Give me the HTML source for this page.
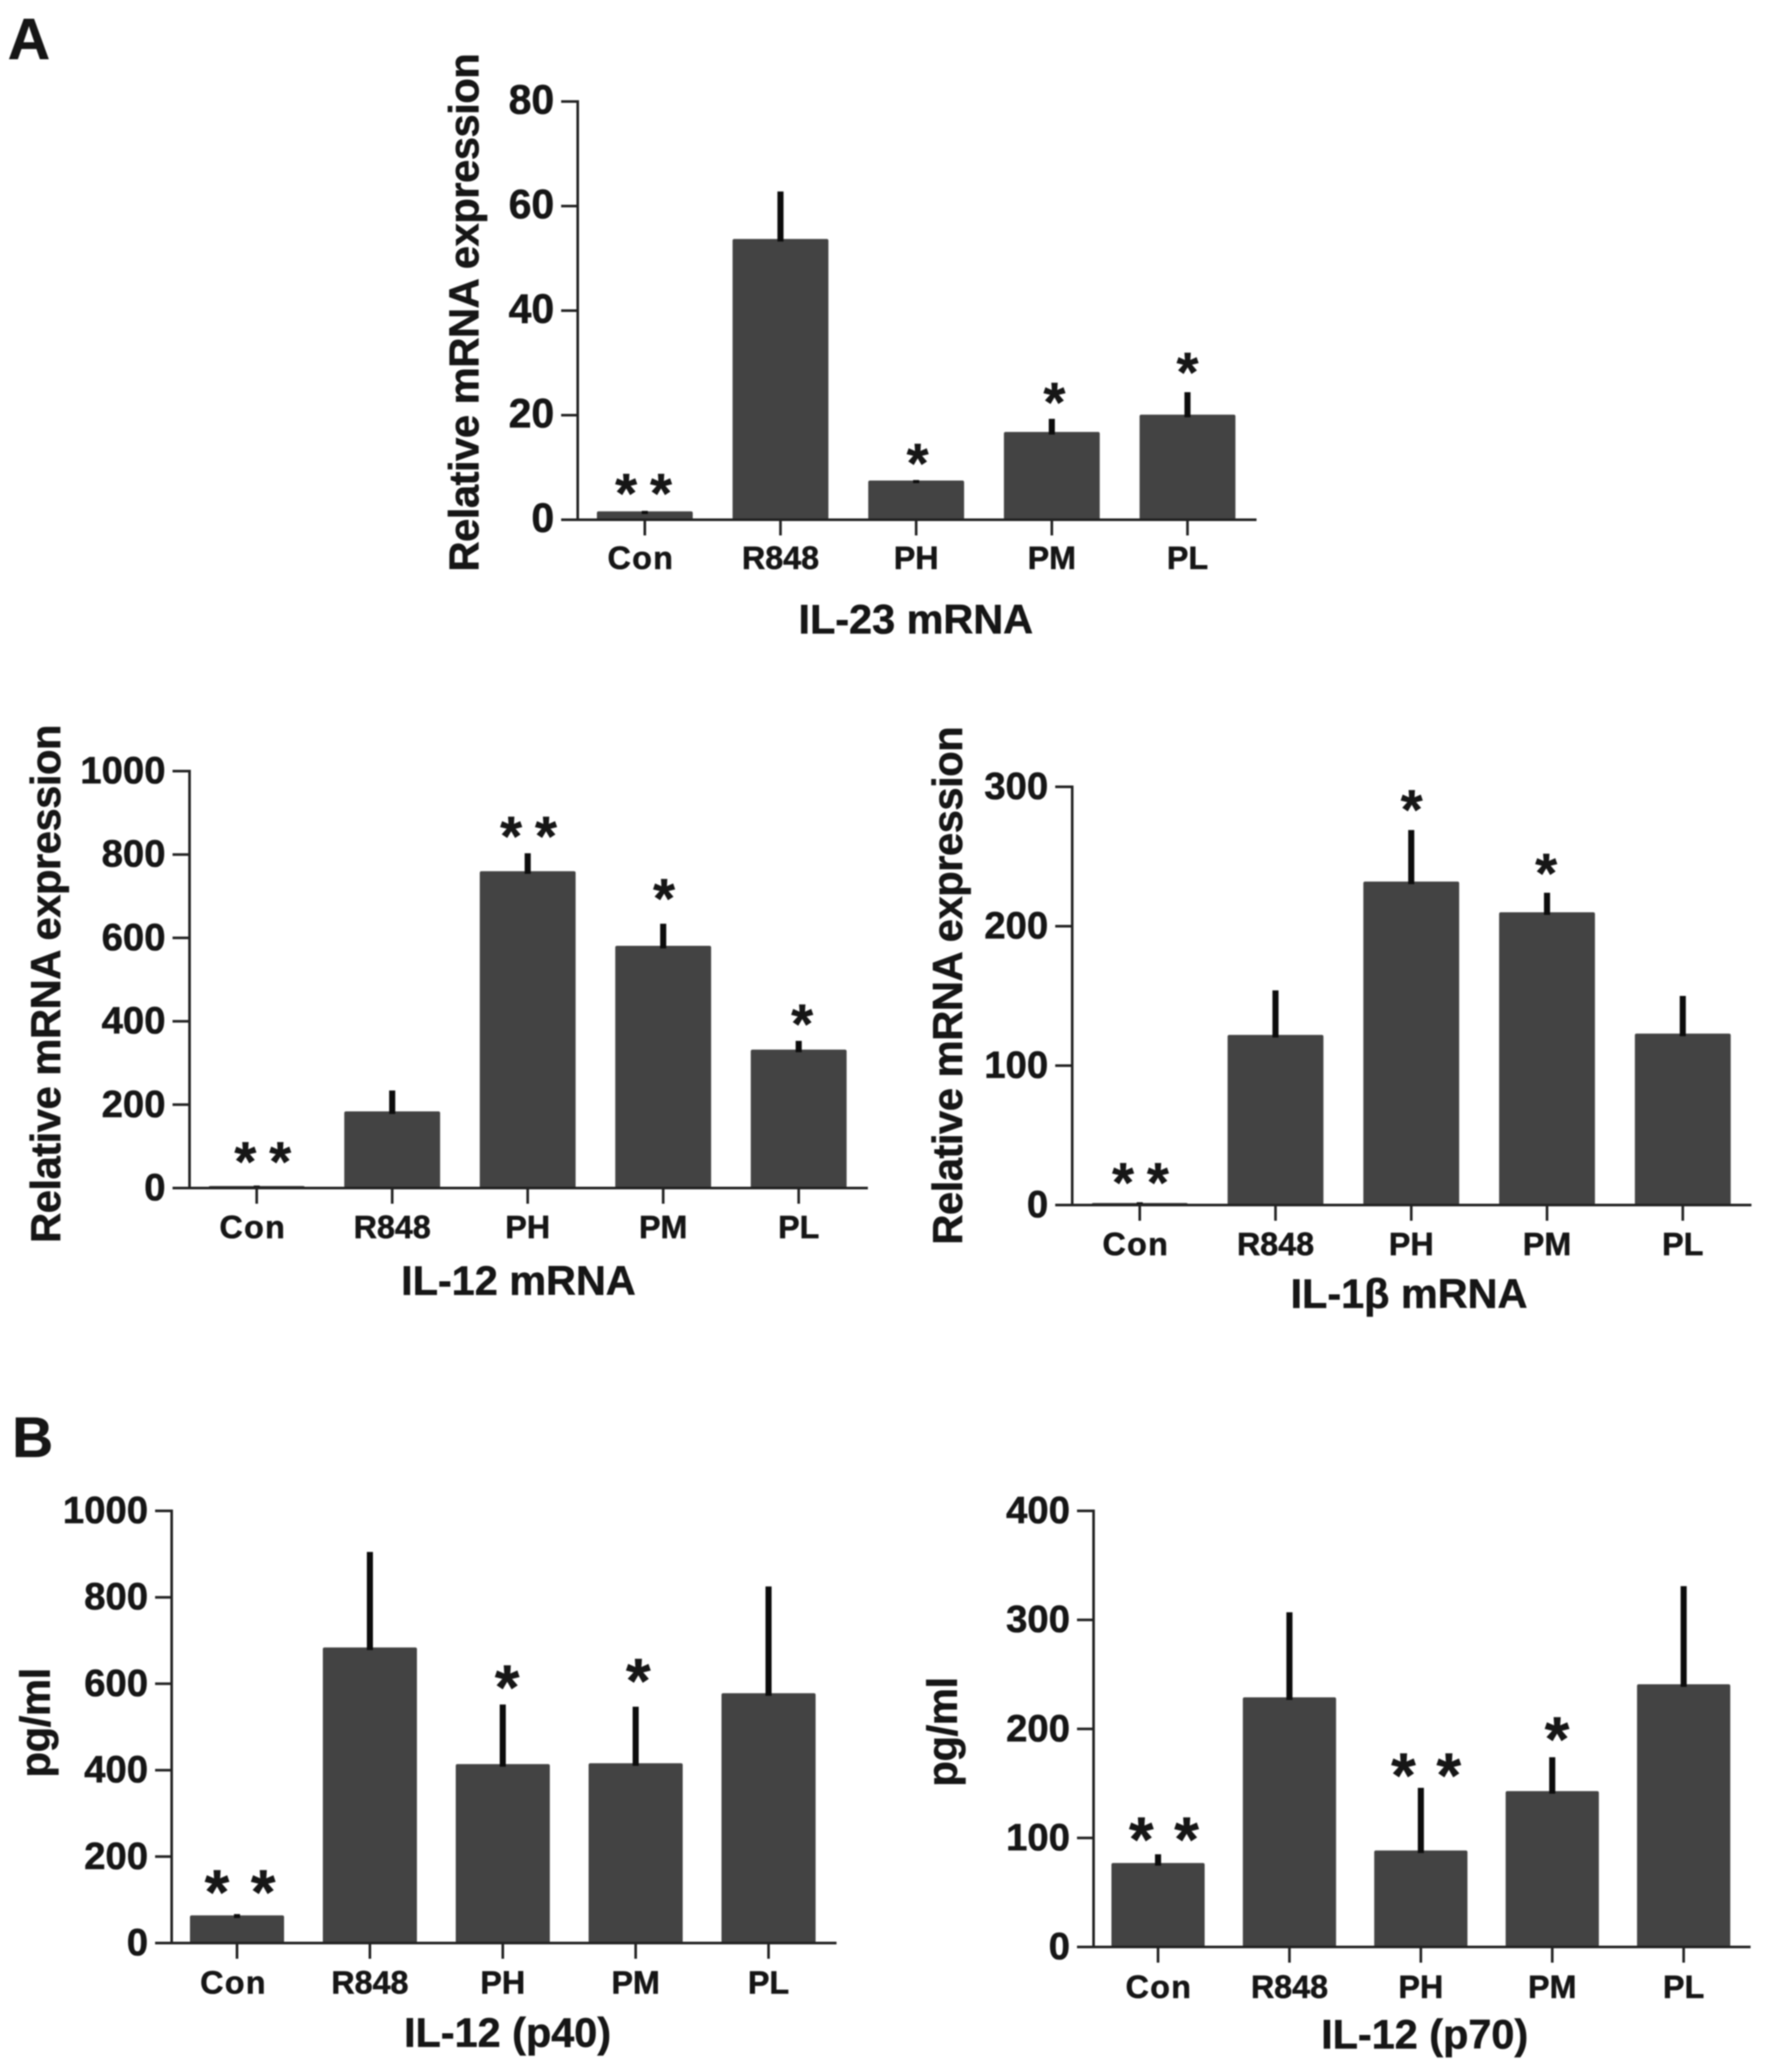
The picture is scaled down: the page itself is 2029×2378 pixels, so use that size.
<!DOCTYPE html>
<html lang="en">
<head>
<meta charset="utf-8">
<title>Cytokine expression bar charts</title>
<style>
html,body{margin:0;padding:0;background:#fff;width:2029px;height:2378px;overflow:hidden}
svg{display:block;filter:blur(0.7px)}
text{font-family:"Liberation Sans",Arial,sans-serif;font-weight:bold;fill:#161616;stroke:#161616;stroke-width:0.6px}
</style>
</head>
<body>
<svg id="figure" xmlns="http://www.w3.org/2000/svg" width="2029" height="2378" viewBox="0 0 2029 2378">
  <rect x="0" y="0" width="2029" height="2378" fill="#ffffff"/>
  <text x="9" y="68" font-size="67">A</text>
  <text x="14" y="1672" font-size="65">B</text>
</svg>
<script>
const categories = ['Con', 'R848', 'PH', 'PM', 'PL'];

const il23Ticks = [0, 20, 40, 60, 80];
const il23Means = [1.6, 53.7, 7.5, 16.8, 20.1];
const il23ErrorTops = [1.7, 62.8, 7.6, 19.3, 24.4];
const il23StarCounts = [2, 0, 1, 1, 1];
const il23StarLevels = [6.65, 0, 12.4, 24.1, 29.8];

const il12Ticks = [0, 200, 400, 600, 800, 1000];
const il12Means = [5, 184, 760, 581, 332];
const il12ErrorTops = [6, 234, 803, 634, 353];
const il12StarCounts = [2, 0, 2, 1, 1];
const il12StarLevels = [83.5, 0, 864, 714, 413];

const il1bTicks = [0, 100, 200, 300];
const il1bMeans = [1.5, 122, 232, 210, 123];
const il1bErrorTops = [2, 154, 269, 224, 150];
const il1bStarCounts = [2, 0, 1, 1, 0];
const il1bStarLevels = [22, 0, 289.5, 244, 0];

const p40Ticks = [0, 200, 400, 600, 800, 1000];
const p40Means = [64, 684, 414, 416, 578];
const p40ErrorTops = [67, 905, 552, 547, 825];
const p40StarCounts = [2, 0, 1, 1, 0];
const p40StarLevels = [139, 0, 612, 628, 0];

const p70Ticks = [0, 100, 200, 300, 400];
const p70Means = [77, 229, 88.5, 143, 241];
const p70ErrorTops = [85, 307, 146, 174, 331];
const p70StarCounts = [2, 0, 2, 1, 0];
const p70StarLevels = [107, 0, 165.6, 199, 0];

const SVG_NS = 'http://www.w3.org/2000/svg';
const figure = document.getElementById('figure');

function make(tag, parent, name, attrs) {
  const el = document.createElementNS(SVG_NS, tag);
  
  
  for (const key in attrs) el.setAttribute(key, attrs[key]);
  parent.appendChild(el);
  return el;
}

function drawPanel(panel, ticks, means, errorTops, starCounts, starLevels) {
  const maxTick = ticks[ticks.length - 1];
  const yScale = v => panel.y0 - (v / maxTick) * (panel.y0 - panel.yTop);
  const xScale = i => panel.x0 + i * panel.step;
  const g = make('g', figure, panel.id + '-chart', {});

  means.forEach((m, i) => {
    const top = yScale(m);
    make('rect', g, panel.id + '-bar-' + categories[i].toLowerCase(), {
      x: xScale(i) - panel.barW / 2, y: top, width: panel.barW, height: panel.y0 - top, fill: '#434343', rx: 2
    });
    make('line', g, panel.id + '-error-' + categories[i].toLowerCase(), {
      x1: xScale(i), x2: xScale(i), y1: yScale(errorTops[i]), y2: top + 3, stroke: '#0c0c0c', 'stroke-width': 7
    });
  });

  make('line', g, panel.id + '-y-axis', {
    x1: panel.axisX, x2: panel.axisX, y1: yScale(maxTick) - 1.5, y2: panel.y0 + 1.5, stroke: '#222', 'stroke-width': 3
  });
  make('line', g, panel.id + '-x-axis', {
    x1: panel.tickLeft, x2: panel.xRight, y1: panel.y0, y2: panel.y0, stroke: '#222', 'stroke-width': 3
  });

  ticks.forEach(t => {
    make('line', g, panel.id + '-y-tick-' + t, {
      x1: panel.tickLeft, x2: panel.axisX, y1: yScale(t), y2: yScale(t), stroke: '#222', 'stroke-width': 3
    });
    const label = make('text', g, panel.id + '-y-tick-label-' + t, {
      x: panel.tickLeft - 8, y: yScale(t) + 14, 'text-anchor': 'end', 'font-size': panel.tickSize
    });
    label.textContent = String(t);
  });

  categories.forEach((c, i) => {
    make('line', g, panel.id + '-x-tick-' + c.toLowerCase(), {
      x1: xScale(i), x2: xScale(i), y1: panel.y0, y2: panel.y0 + 18, stroke: '#222', 'stroke-width': 3
    });
    const label = make('text', g, panel.id + '-x-tick-label-' + c.toLowerCase(), {
      x: xScale(i) + (i === 0 ? panel.conShift : 0), y: panel.catBase, 'text-anchor': 'middle', 'font-size': 37
    });
    label.textContent = c;
    if (i === 0) label.setAttribute('letter-spacing', '1.5');
  });

  starCounts.forEach((n, i) => {
    if (!n) return;
    const cx = xScale(i) + panel.starShift[i];
    const positions = n === 2 ? [cx - panel.starGap / 2, cx + panel.starGap / 2] : [cx];
    positions.forEach((sx, k) => {
      const star = make('text', g, panel.id + '-significance-star-' + categories[i].toLowerCase() + '-' + k, {
        x: sx, y: yScale(starLevels[i]) + panel.starSize * 0.49, 'text-anchor': 'middle', 'font-size': panel.starSize
      });
      star.textContent = '*';
    });
  });

  const title = make('text', g, panel.id + '-x-axis-title', {
    x: panel.titleX, y: panel.titleY, 'text-anchor': 'middle', 'font-size': 47.5
  });
  title.textContent = panel.title;

  const yTitle = make('text', g, panel.id + '-y-axis-title', {
    transform: 'translate(' + panel.yTitleX + ',' + panel.yTitleY + ') rotate(-90)',
    'text-anchor': 'middle', 'font-size': 48, textLength: panel.yTitleLen, lengthAdjust: 'spacing'
  });
  yTitle.textContent = panel.yTitle;
}

drawPanel({
  id: 'il23-mrna', title: 'IL-23 mRNA', yTitle: 'Relative mRNA expression', tickSize: 47,
  axisX: 663, tickLeft: 644, xRight: 1442, y0: 596.5, yTop: 116.5, x0: 740, step: 155.7, barW: 110,
  catBase: 653, conShift: -4.5, titleX: 1051, titleY: 727, yTitleX: 549, yTitleY: 358.5, yTitleLen: 595,
  starSize: 64, starGap: 40, starShift: [-1.4, 0, 1.7, 3, 0]
}, il23Ticks, il23Means, il23ErrorTops, il23StarCounts, il23StarLevels);

drawPanel({
  id: 'il12-mrna', title: 'IL-12 mRNA', yTitle: 'Relative mRNA expression', tickSize: 44,
  axisX: 217.5, tickLeft: 198, xRight: 996, y0: 1363.5, yTop: 885, x0: 294.6, step: 155.5, barW: 110,
  catBase: 1421, conShift: -4.5, titleX: 595, titleY: 1486, yTitleX: 69, yTitleY: 1129, yTitleLen: 595,
  starSize: 64, starGap: 40, starShift: [7, 0, 1, 1, 4]
}, il12Ticks, il12Means, il12ErrorTops, il12StarCounts, il12StarLevels);

drawPanel({
  id: 'il1b-mrna', title: 'IL-1β mRNA', yTitle: 'Relative mRNA expression', tickSize: 44,
  axisX: 1230.5, tickLeft: 1211, xRight: 2010, y0: 1383, yTop: 903, x0: 1308, step: 155.8, barW: 110,
  catBase: 1440.5, conShift: -4.5, titleX: 1617, titleY: 1501, yTitleX: 1104, yTitleY: 1131, yTitleLen: 595,
  starSize: 64, starGap: 40, starShift: [0.8, 0, 0.5, -1, 0]
}, il1bTicks, il1bMeans, il1bErrorTops, il1bStarCounts, il1bStarLevels);

drawPanel({
  id: 'il12-p40', title: 'IL-12 (p40)', yTitle: 'pg/ml', tickSize: 44,
  axisX: 197, tickLeft: 178, xRight: 960, y0: 2230, yTop: 1734, x0: 272, step: 152.5, barW: 108,
  catBase: 2288, conShift: -4, titleX: 582.5, titleY: 2349, yTitleX: 57, yTitleY: 1977, yTitleLen: 126,
  starSize: 72, starGap: 53, starShift: [3.5, 0, 5, 3, 0]
}, p40Ticks, p40Means, p40ErrorTops, p40StarCounts, p40StarLevels);

drawPanel({
  id: 'il12-p70', title: 'IL-12 (p70)', yTitle: 'pg/ml', tickSize: 44,
  axisX: 1255, tickLeft: 1236, xRight: 2009, y0: 2234.5, yTop: 1734, x0: 1329, step: 150.8, barW: 107,
  catBase: 2293, conShift: 1, titleX: 1635, titleY: 2351, yTitleX: 1098, yTitleY: 1987.5, yTitleLen: 126,
  starSize: 72, starGap: 52, starShift: [6.8, 0, 6, 5.5, 0]
}, p70Ticks, p70Means, p70ErrorTops, p70StarCounts, p70StarLevels);
</script>
</body>
</html>
